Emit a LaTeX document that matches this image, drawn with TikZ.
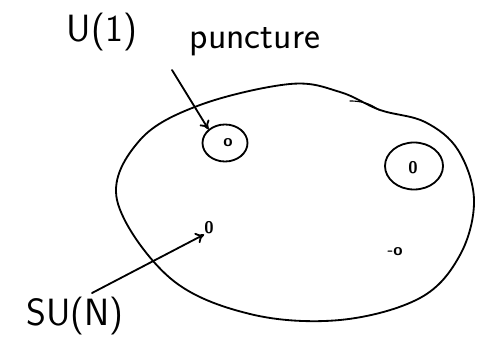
\documentclass[tikz,border=0pt]{standalone}
\usetikzlibrary{shapes.geometric,arrows.meta}
\begin{document}
\begin{tikzpicture}[x=0.025cm,y=-0.025cm,
  pen/.style={line width=1.3pt,line cap=round,line join=round},
  lab/.style={font=\fontsize{27}{30}\selectfont\sffamily,inner sep=0pt},
  hole/.style={ellipse,draw,line width=1.3pt,inner sep=0pt},
  dot/.style={font=\fontsize{12}{13}\selectfont\sffamily\bfseries,inner sep=0pt},
  arr/.style={pen,-{To[length=6pt,width=8pt]}}]
\useasboundingbox (0,0) rectangle (477,339);
% big surface
\draw[pen] plot[smooth cycle,tension=0.6] coordinates{
  (117,200) (140,140) (200,105) (290,84) (340,92) (380,110) (425,122) (458,150)
  (474,200) (460,255) (420,298) (340,320) (250,314) (170,278)};
\draw[pen,line width=0.8pt] (350,101) .. controls (366,101) and (373,106) .. (379,110);
% punctures
\node[hole,minimum width=1.125cm,minimum height=0.925cm] (p1) at (225,143) {};
\node[hole,minimum width=1.45cm,minimum height=1.175cm] (p2) at (414,166) {};
\node[dot] (d1) at (228,143) {o};
\node[dot] (d2) at (413,168) {0};
\node[dot] (d3) at (209,228) {0};
\node[dot] (d4) at (395,252) {-o};
% labels
\node[lab] (u1) at (102,32) {U(1)};
\node[lab] (pc) at (255,42) {puncture};
\node[lab] (su) at (75,316) {SU(N)};
\coordinate (a1) at (172,70);
\coordinate (a2) at (92,293);
\draw[arr] (a1) -- (p1.north west);
\draw[arr] (a2) -- (d3.south west);
\end{tikzpicture}
\end{document}
